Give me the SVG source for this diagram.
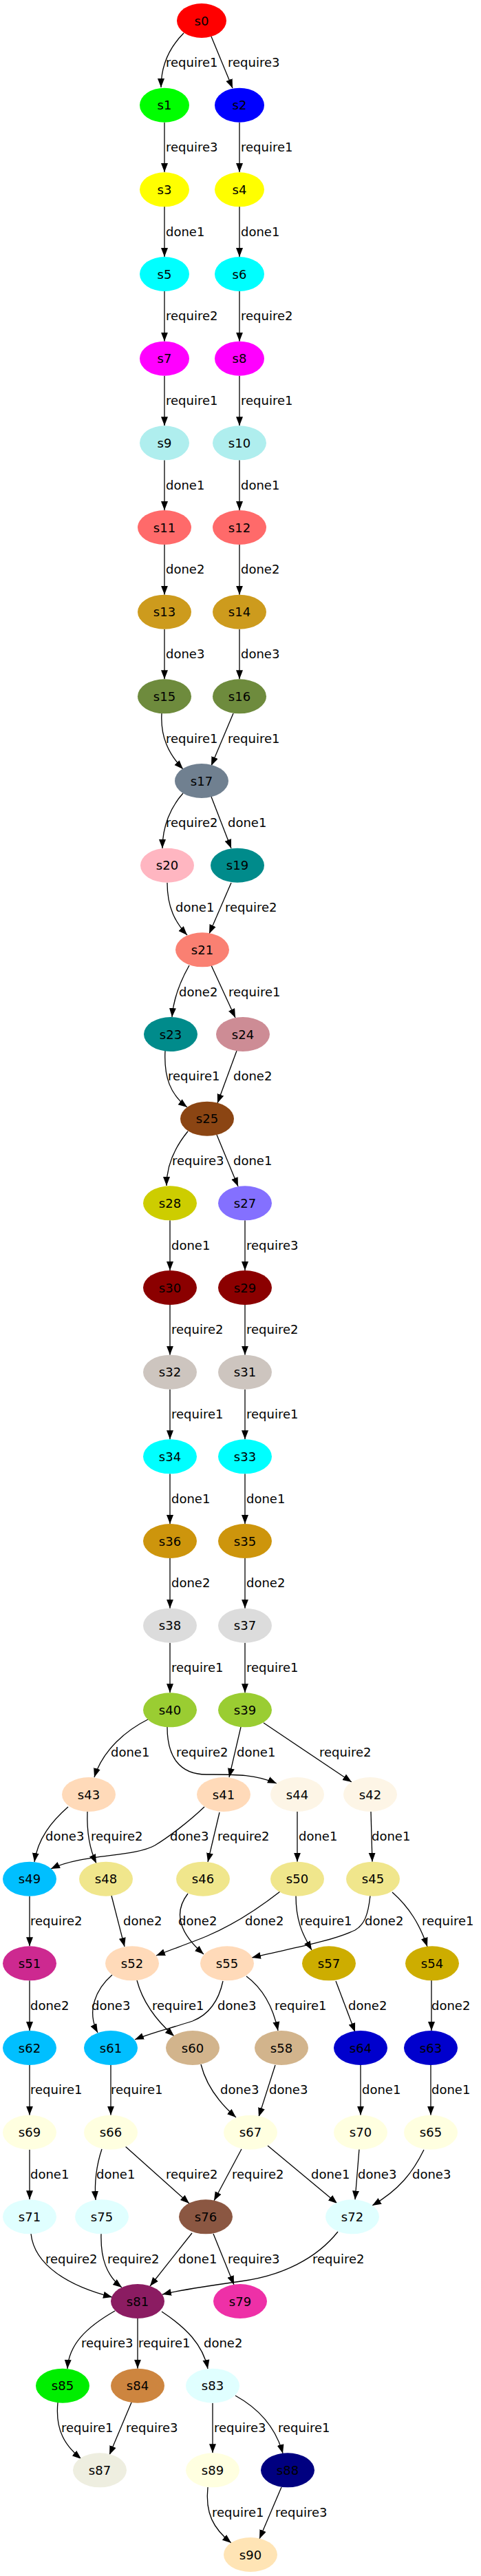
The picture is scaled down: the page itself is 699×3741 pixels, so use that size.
<svg xmlns="http://www.w3.org/2000/svg" width="699" height="3741" viewBox="0 0 699 3741">
<style>
text{font-family:"DejaVu Sans","Liberation Sans",sans-serif;font-size:18px;fill:#000}
.n text{text-anchor:middle}
#edges path{fill:none;stroke:#000;stroke-width:1.3;marker-end:url(#ah)}
</style>
<defs>
<marker id="ah" markerUnits="userSpaceOnUse" markerWidth="14" markerHeight="11" refX="13" refY="5" orient="auto"><path d="M0,0 L13,5 L0,10 z" fill="#000"/></marker>
</defs>
<rect width="699" height="3741" fill="#fff"/>
<g id="edges">
<path d="M267,48 C245,70 234,95 234,127"/>
<path d="M307,53 L338,128"/>
<path d="M239,178 L239,250"/>
<path d="M348,178 L348,250"/>
<path d="M239,300 L239,373"/>
<path d="M348,300 L348,373"/>
<path d="M239,423 L239,495.7"/>
<path d="M348,423 L348,495.7"/>
<path d="M239,545.7 L239,618.3"/>
<path d="M348,545.7 L348,618.3"/>
<path d="M239,668.3 L239,741"/>
<path d="M348,668.3 L348,741"/>
<path d="M239,791 L239,863.7"/>
<path d="M348,791 L348,863.7"/>
<path d="M239,913.7 L239,986.3"/>
<path d="M348,913.7 L348,986.3"/>
<path d="M235,1036 C233,1070 245,1095 266,1117"/>
<path d="M339,1036 L307,1112"/>
<path d="M266,1152 C248,1172 236,1200 236,1232"/>
<path d="M307,1157 L336,1232"/>
<path d="M243,1282 C243,1318 255,1340 272,1358"/>
<path d="M336,1282 L304,1356"/>
<path d="M275,1402 C262,1425 252,1450 250,1477"/>
<path d="M307,1402 L342,1478"/>
<path d="M240,1526 C238,1565 248,1590 272,1608"/>
<path d="M344,1526 L316,1602"/>
<path d="M273,1643 C255,1665 242,1690 242,1722"/>
<path d="M315,1648 L346,1723"/>
<path d="M247,1772.3 L247,1845"/>
<path d="M356,1772.3 L356,1845"/>
<path d="M247,1895 L247,1967.7"/>
<path d="M356,1895 L356,1967.7"/>
<path d="M247,2017.7 L247,2090.3"/>
<path d="M356,2017.7 L356,2090.3"/>
<path d="M247,2140.3 L247,2213"/>
<path d="M356,2140.3 L356,2213"/>
<path d="M247,2263 L247,2335.7"/>
<path d="M356,2263 L356,2335.7"/>
<path d="M247,2385.7 L247,2458.3"/>
<path d="M356,2385.7 L356,2458.3"/>
<path d="M215,2497 C185,2512 150,2540 137,2581"/>
<path d="M243,2508 C243,2550 260,2577 300,2577 C340,2577 370,2576 402,2590"/>
<path d="M350,2508 L333,2581"/>
<path d="M383,2502 L511,2588"/>
<path d="M99,2624 C75,2645 55,2670 50,2704"/>
<path d="M127,2631 C126,2660 130,2685 140,2706"/>
<path d="M297,2624 C275,2645 245,2668 225,2680 C195,2697 120,2692 74,2714"/>
<path d="M319,2632 L302,2704"/>
<path d="M432,2631 L432,2703.7"/>
<path d="M539,2631 L541,2703.7"/>
<path d="M43,2753.7 L43,2826.3"/>
<path d="M162,2753 L181,2827"/>
<path d="M273,2750 C253,2776 258,2805 296,2838"/>
<path d="M407,2747 C375,2772 340,2795 300,2812 C275,2822 250,2831 227,2840"/>
<path d="M430,2753 C430,2790 440,2810 453,2832"/>
<path d="M538,2753 C535,2780 530,2795 516,2803 C480,2820 420,2830 366,2843"/>
<path d="M570,2748 C595,2770 610,2795 621,2827"/>
<path d="M43,2876.3 L43,2949"/>
<path d="M163,2868 C140,2888 125,2920 142,2952"/>
<path d="M199,2876 C208,2910 228,2935 253,2957"/>
<path d="M324,2877 C318,2905 305,2925 280,2935 C250,2945 220,2952 196,2962"/>
<path d="M358,2870 C385,2890 398,2920 404,2949"/>
<path d="M488,2877 L516,2951"/>
<path d="M627,2876 L627,2949"/>
<path d="M43,2999 L43,3071.7"/>
<path d="M161,2999 L161,3071.7"/>
<path d="M292,2998 C300,3030 320,3055 343,3075"/>
<path d="M400,2999 L376,3074"/>
<path d="M524,2999 L524,3071.7"/>
<path d="M626,2999 L626,3071.7"/>
<path d="M43,3121.7 L43,3194.3"/>
<path d="M148,3121 C140,3145 137,3170 139,3195"/>
<path d="M182,3117 L275,3200"/>
<path d="M351,3121 L311,3196"/>
<path d="M389,3116 L490,3200"/>
<path d="M522,3121 L516,3194.5"/>
<path d="M616,3122 C600,3155 580,3180 541,3203"/>
<path d="M45,3244 C50,3290 100,3320 163,3336"/>
<path d="M147,3244 C146,3280 155,3305 177,3322"/>
<path d="M279,3243 L218,3320"/>
<path d="M310,3244 L340,3318"/>
<path d="M491,3241 C460,3280 410,3305 350,3313 C300,3320 265,3325 236,3332"/>
<path d="M167,3356 C125,3380 100,3405 98,3440"/>
<path d="M200,3367 L200,3439.7"/>
<path d="M235,3357 C270,3380 295,3405 302,3440"/>
<path d="M84,3489 C80,3530 95,3552 118,3571"/>
<path d="M191,3489 L159,3565"/>
<path d="M309,3489.7 L309,3562.3"/>
<path d="M342,3479 C380,3500 402,3530 411,3563"/>
<path d="M302,3612 C298,3650 310,3672 336,3693"/>
<path d="M409,3612 L377,3687"/>
</g>
<g id="edge-labels">
<text x="241" y="97">require1</text><text x="331" y="97">require3</text>
<text x="241" y="220">require3</text><text x="350" y="220">require1</text>
<text x="241" y="343">done1</text><text x="350" y="343">done1</text>
<text x="241" y="465">require2</text><text x="350" y="465">require2</text>
<text x="241" y="588">require1</text><text x="350" y="588">require1</text>
<text x="241" y="711">done1</text><text x="350" y="711">done1</text>
<text x="241" y="833">done2</text><text x="350" y="833">done2</text>
<text x="241" y="956">done3</text><text x="350" y="956">done3</text>
<text x="241" y="1079">require1</text><text x="331" y="1079">require1</text>
<text x="241" y="1201">require2</text><text x="331" y="1201">done1</text>
<text x="255" y="1324">done1</text><text x="327" y="1324">require2</text>
<text x="260" y="1447">done2</text><text x="332" y="1447">require1</text>
<text x="244" y="1569">require1</text><text x="339" y="1569">done2</text>
<text x="250" y="1692">require3</text><text x="339" y="1692">done1</text>
<text x="249" y="1815">done1</text><text x="358" y="1815">require3</text>
<text x="249" y="1937">require2</text><text x="358" y="1937">require2</text>
<text x="249" y="2060">require1</text><text x="358" y="2060">require1</text>
<text x="249" y="2183">done1</text><text x="358" y="2183">done1</text>
<text x="249" y="2305">done2</text><text x="358" y="2305">done2</text>
<text x="249" y="2428">require1</text><text x="358" y="2428">require1</text>
<text x="161" y="2551">done1</text><text x="256" y="2551">require2</text><text x="344" y="2551">done1</text><text x="464" y="2551">require2</text>
<text x="66" y="2673">done3</text><text x="132" y="2673">require2</text><text x="247" y="2673">done3</text><text x="316" y="2673">require2</text><text x="434" y="2673">done1</text><text x="540" y="2673">done1</text>
<text x="44" y="2796">require2</text><text x="179" y="2796">done2</text><text x="259" y="2796">done2</text><text x="356" y="2796">done2</text><text x="436" y="2796">require1</text><text x="530" y="2796">done2</text><text x="613" y="2796">require1</text>
<text x="44" y="2919">done2</text><text x="133" y="2919">done3</text><text x="221" y="2919">require1</text><text x="316" y="2919">done3</text><text x="399" y="2919">require1</text><text x="506" y="2919">done2</text><text x="627" y="2919">done2</text>
<text x="44" y="3041">require1</text><text x="161" y="3041">require1</text><text x="320" y="3041">done3</text><text x="391" y="3041">done3</text><text x="526" y="3041">done1</text><text x="627" y="3041">done1</text>
<text x="44" y="3164">done1</text><text x="140" y="3164">done1</text><text x="241" y="3164">require2</text><text x="337" y="3164">require2</text><text x="452" y="3164">done1</text><text x="520" y="3164">done3</text><text x="599" y="3164">done3</text>
<text x="66" y="3287">require2</text><text x="156" y="3287">require2</text><text x="259" y="3287">done1</text><text x="331" y="3287">require3</text><text x="454" y="3287">require2</text>
<text x="118" y="3409">require3</text><text x="201" y="3409">require1</text><text x="296" y="3409">done2</text>
<text x="89" y="3532">require1</text><text x="183" y="3532">require3</text><text x="311" y="3532">require3</text><text x="404" y="3532">require1</text>
<text x="308" y="3655">require1</text><text x="400" y="3655">require3</text>
</g>
<g id="s0" class="n"><ellipse cx="293" cy="30" rx="36" ry="25" fill="#ff0000"/><text x="293" y="36.5">s0</text></g>
<g id="s1" class="n"><ellipse cx="239" cy="152.7" rx="36" ry="25" fill="#00ff00"/><text x="239" y="159.2">s1</text></g>
<g id="s2" class="n"><ellipse cx="348" cy="152.7" rx="36" ry="25" fill="#0000ff"/><text x="348" y="159.2">s2</text></g>
<g id="s3" class="n"><ellipse cx="239" cy="275.3" rx="36" ry="25" fill="#ffff00"/><text x="239" y="281.8">s3</text></g>
<g id="s4" class="n"><ellipse cx="348" cy="275.3" rx="36" ry="25" fill="#ffff00"/><text x="348" y="281.8">s4</text></g>
<g id="s5" class="n"><ellipse cx="239" cy="398" rx="36" ry="25" fill="#00ffff"/><text x="239" y="404.5">s5</text></g>
<g id="s6" class="n"><ellipse cx="348" cy="398" rx="36" ry="25" fill="#00ffff"/><text x="348" y="404.5">s6</text></g>
<g id="s7" class="n"><ellipse cx="239" cy="520.7" rx="36" ry="25" fill="#ff00ff"/><text x="239" y="527.2">s7</text></g>
<g id="s8" class="n"><ellipse cx="348" cy="520.7" rx="36" ry="25" fill="#ff00ff"/><text x="348" y="527.2">s8</text></g>
<g id="s9" class="n"><ellipse cx="239" cy="643.3" rx="36" ry="25" fill="#afeeee"/><text x="239" y="649.8">s9</text></g>
<g id="s10" class="n"><ellipse cx="348" cy="643.3" rx="39" ry="25" fill="#afeeee"/><text x="348" y="649.8">s10</text></g>
<g id="s11" class="n"><ellipse cx="239" cy="766" rx="39" ry="25" fill="#ff6a6a"/><text x="239" y="772.5">s11</text></g>
<g id="s12" class="n"><ellipse cx="348" cy="766" rx="39" ry="25" fill="#ff6a6a"/><text x="348" y="772.5">s12</text></g>
<g id="s13" class="n"><ellipse cx="239" cy="888.7" rx="39" ry="25" fill="#cd9b1d"/><text x="239" y="895.2">s13</text></g>
<g id="s14" class="n"><ellipse cx="348" cy="888.7" rx="39" ry="25" fill="#cd9b1d"/><text x="348" y="895.2">s14</text></g>
<g id="s15" class="n"><ellipse cx="239" cy="1011.3" rx="39" ry="25" fill="#6e8b3d"/><text x="239" y="1017.8">s15</text></g>
<g id="s16" class="n"><ellipse cx="348" cy="1011.3" rx="39" ry="25" fill="#6e8b3d"/><text x="348" y="1017.8">s16</text></g>
<g id="s17" class="n"><ellipse cx="293" cy="1134" rx="39" ry="25" fill="#708090"/><text x="293" y="1140.5">s17</text></g>
<g id="s20" class="n"><ellipse cx="243" cy="1256.7" rx="39" ry="25" fill="#ffb6c1"/><text x="243" y="1263.2">s20</text></g>
<g id="s19" class="n"><ellipse cx="345" cy="1256.7" rx="39" ry="25" fill="#008b8b"/><text x="345" y="1263.2">s19</text></g>
<g id="s21" class="n"><ellipse cx="294" cy="1379.3" rx="39" ry="25" fill="#fa8072"/><text x="294" y="1385.8">s21</text></g>
<g id="s23" class="n"><ellipse cx="248" cy="1502" rx="39" ry="25" fill="#008b8b"/><text x="248" y="1508.5">s23</text></g>
<g id="s24" class="n"><ellipse cx="353" cy="1502" rx="39" ry="25" fill="#cd8c95"/><text x="353" y="1508.5">s24</text></g>
<g id="s25" class="n"><ellipse cx="301" cy="1624.7" rx="39" ry="25" fill="#8b4513"/><text x="301" y="1631.2">s25</text></g>
<g id="s28" class="n"><ellipse cx="247" cy="1747.3" rx="39" ry="25" fill="#cdcd00"/><text x="247" y="1753.8">s28</text></g>
<g id="s27" class="n"><ellipse cx="356" cy="1747.3" rx="39" ry="25" fill="#8470ff"/><text x="356" y="1753.8">s27</text></g>
<g id="s30" class="n"><ellipse cx="247" cy="1870" rx="39" ry="25" fill="#8b0000"/><text x="247" y="1876.5">s30</text></g>
<g id="s29" class="n"><ellipse cx="356" cy="1870" rx="39" ry="25" fill="#8b0000"/><text x="356" y="1876.5">s29</text></g>
<g id="s32" class="n"><ellipse cx="247" cy="1992.7" rx="39" ry="25" fill="#cdc5bf"/><text x="247" y="1999.2">s32</text></g>
<g id="s31" class="n"><ellipse cx="356" cy="1992.7" rx="39" ry="25" fill="#cdc5bf"/><text x="356" y="1999.2">s31</text></g>
<g id="s34" class="n"><ellipse cx="247" cy="2115.3" rx="39" ry="25" fill="#00ffff"/><text x="247" y="2121.8">s34</text></g>
<g id="s33" class="n"><ellipse cx="356" cy="2115.3" rx="39" ry="25" fill="#00ffff"/><text x="356" y="2121.8">s33</text></g>
<g id="s36" class="n"><ellipse cx="247" cy="2238" rx="39" ry="25" fill="#cd950c"/><text x="247" y="2244.5">s36</text></g>
<g id="s35" class="n"><ellipse cx="356" cy="2238" rx="39" ry="25" fill="#cd950c"/><text x="356" y="2244.5">s35</text></g>
<g id="s38" class="n"><ellipse cx="247" cy="2360.7" rx="39" ry="25" fill="#dcdcdc"/><text x="247" y="2367.2">s38</text></g>
<g id="s37" class="n"><ellipse cx="356" cy="2360.7" rx="39" ry="25" fill="#dcdcdc"/><text x="356" y="2367.2">s37</text></g>
<g id="s40" class="n"><ellipse cx="247" cy="2483.3" rx="39" ry="25" fill="#9acd32"/><text x="247" y="2489.8">s40</text></g>
<g id="s39" class="n"><ellipse cx="356" cy="2483.3" rx="39" ry="25" fill="#9acd32"/><text x="356" y="2489.8">s39</text></g>
<g id="s43" class="n"><ellipse cx="129" cy="2606" rx="39" ry="25" fill="#ffdab9"/><text x="129" y="2612.5">s43</text></g>
<g id="s41" class="n"><ellipse cx="325" cy="2606" rx="39" ry="25" fill="#ffdab9"/><text x="325" y="2612.5">s41</text></g>
<g id="s44" class="n"><ellipse cx="432" cy="2606" rx="39" ry="25" fill="#fdf5e6"/><text x="432" y="2612.5">s44</text></g>
<g id="s42" class="n"><ellipse cx="538" cy="2606" rx="39" ry="25" fill="#fdf5e6"/><text x="538" y="2612.5">s42</text></g>
<g id="s49" class="n"><ellipse cx="43" cy="2728.7" rx="39" ry="25" fill="#00bfff"/><text x="43" y="2735.2">s49</text></g>
<g id="s48" class="n"><ellipse cx="154" cy="2728.7" rx="39" ry="25" fill="#f0e68c"/><text x="154" y="2735.2">s48</text></g>
<g id="s46" class="n"><ellipse cx="295" cy="2728.7" rx="39" ry="25" fill="#f0e68c"/><text x="295" y="2735.2">s46</text></g>
<g id="s50" class="n"><ellipse cx="432" cy="2728.7" rx="39" ry="25" fill="#f0e68c"/><text x="432" y="2735.2">s50</text></g>
<g id="s45" class="n"><ellipse cx="542" cy="2728.7" rx="39" ry="25" fill="#f0e68c"/><text x="542" y="2735.2">s45</text></g>
<g id="s51" class="n"><ellipse cx="43" cy="2851.3" rx="39" ry="25" fill="#cd2990"/><text x="43" y="2857.8">s51</text></g>
<g id="s52" class="n"><ellipse cx="192" cy="2851.3" rx="39" ry="25" fill="#ffdab9"/><text x="192" y="2857.8">s52</text></g>
<g id="s55" class="n"><ellipse cx="330" cy="2851.3" rx="39" ry="25" fill="#ffdab9"/><text x="330" y="2857.8">s55</text></g>
<g id="s57" class="n"><ellipse cx="478" cy="2851.3" rx="39" ry="25" fill="#cdad00"/><text x="478" y="2857.8">s57</text></g>
<g id="s54" class="n"><ellipse cx="628" cy="2851.3" rx="39" ry="25" fill="#cdad00"/><text x="628" y="2857.8">s54</text></g>
<g id="s62" class="n"><ellipse cx="43" cy="2974" rx="39" ry="25" fill="#00bfff"/><text x="43" y="2980.5">s62</text></g>
<g id="s61" class="n"><ellipse cx="161" cy="2974" rx="39" ry="25" fill="#00bfff"/><text x="161" y="2980.5">s61</text></g>
<g id="s60" class="n"><ellipse cx="280" cy="2974" rx="39" ry="25" fill="#d2b48c"/><text x="280" y="2980.5">s60</text></g>
<g id="s58" class="n"><ellipse cx="409" cy="2974" rx="39" ry="25" fill="#d2b48c"/><text x="409" y="2980.5">s58</text></g>
<g id="s64" class="n"><ellipse cx="524" cy="2974" rx="39" ry="25" fill="#0000cd"/><text x="524" y="2980.5">s64</text></g>
<g id="s63" class="n"><ellipse cx="626" cy="2974" rx="39" ry="25" fill="#0000cd"/><text x="626" y="2980.5">s63</text></g>
<g id="s69" class="n"><ellipse cx="43" cy="3096.7" rx="39" ry="25" fill="#ffffe0"/><text x="43" y="3103.2">s69</text></g>
<g id="s66" class="n"><ellipse cx="161" cy="3096.7" rx="39" ry="25" fill="#ffffe0"/><text x="161" y="3103.2">s66</text></g>
<g id="s67" class="n"><ellipse cx="364" cy="3096.7" rx="39" ry="25" fill="#ffffe0"/><text x="364" y="3103.2">s67</text></g>
<g id="s70" class="n"><ellipse cx="524" cy="3096.7" rx="39" ry="25" fill="#ffffe0"/><text x="524" y="3103.2">s70</text></g>
<g id="s65" class="n"><ellipse cx="626" cy="3096.7" rx="39" ry="25" fill="#ffffe0"/><text x="626" y="3103.2">s65</text></g>
<g id="s71" class="n"><ellipse cx="43" cy="3219.3" rx="39" ry="25" fill="#e0ffff"/><text x="43" y="3225.8">s71</text></g>
<g id="s75" class="n"><ellipse cx="148" cy="3219.3" rx="39" ry="25" fill="#e0ffff"/><text x="148" y="3225.8">s75</text></g>
<g id="s76" class="n"><ellipse cx="299" cy="3219.3" rx="39" ry="25" fill="#8b5742"/><text x="299" y="3225.8">s76</text></g>
<g id="s72" class="n"><ellipse cx="512" cy="3219.3" rx="39" ry="25" fill="#e0ffff"/><text x="512" y="3225.8">s72</text></g>
<g id="s81" class="n"><ellipse cx="200" cy="3342" rx="39" ry="25" fill="#8b1c62"/><text x="200" y="3348.5">s81</text></g>
<g id="s79" class="n"><ellipse cx="349" cy="3342" rx="39" ry="25" fill="#ee30a7"/><text x="349" y="3348.5">s79</text></g>
<g id="s85" class="n"><ellipse cx="91" cy="3464.7" rx="39" ry="25" fill="#00ee00"/><text x="91" y="3471.2">s85</text></g>
<g id="s84" class="n"><ellipse cx="200" cy="3464.7" rx="39" ry="25" fill="#cd853f"/><text x="200" y="3471.2">s84</text></g>
<g id="s83" class="n"><ellipse cx="309" cy="3464.7" rx="39" ry="25" fill="#e0ffff"/><text x="309" y="3471.2">s83</text></g>
<g id="s87" class="n"><ellipse cx="145" cy="3587.3" rx="39" ry="25" fill="#eeeee0"/><text x="145" y="3593.8">s87</text></g>
<g id="s89" class="n"><ellipse cx="309" cy="3587.3" rx="39" ry="25" fill="#ffffe0"/><text x="309" y="3593.8">s89</text></g>
<g id="s88" class="n"><ellipse cx="418" cy="3587.3" rx="39" ry="25" fill="#000080"/><text x="418" y="3593.8">s88</text></g>
<g id="s90" class="n"><ellipse cx="364" cy="3710" rx="39" ry="25" fill="#ffe4b5"/><text x="364" y="3716.5">s90</text></g>
</svg>
